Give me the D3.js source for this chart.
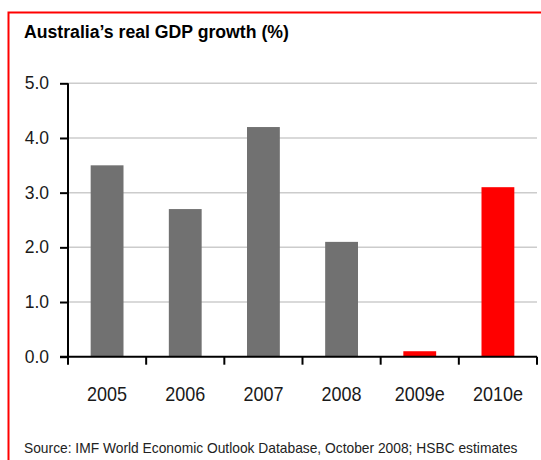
<!DOCTYPE html>
<html>
<head>
<meta charset="utf-8">
<script src="https://cdn.jsdelivr.net/npm/d3@7"></script>
<style>
  html, body { margin: 0; padding: 0; background: #fff; }
  svg { display: block; }
  text { font-family: "Liberation Sans", Arial, sans-serif; fill: #1a1a1a; }
</style>
</head>
<body>
<svg id="chart" width="541" height="460"></svg>
<script>
// Real GDP growth, Australia (%), with estimates for 2009 and 2010
const years = ["2005", "2006", "2007", "2008", "2009e", "2010e"];
const growth = [3.5, 2.7, 4.2, 2.1, 0.1, 3.1];
const isEstimate = [false, false, false, false, true, true];
const yTicks = [0, 1, 2, 3, 4, 5];

const svg = d3.select("#chart");
const W = 541, H = 460;

// narrow-style text: horizontally condensed around its anchor point
function narrowText(sel, x, y, k) {
  return sel.attr("x", 0).attr("y", 0)
    .attr("transform", `translate(${x},${y}) scale(${k},1)`);
}

// frame
svg.append("path")
  .attr("d", `M8.5,${H} L8.5,12.5 L${W},12.5`)
  .attr("fill", "none")
  .attr("stroke", "#ff0000")
  .attr("stroke-width", 2);

narrowText(svg.append("text"), 24, 38, 0.93)
  .attr("font-size", 19).attr("font-weight", "bold")
  .style("fill", "#000")
  .text("Australia\u2019s real GDP growth (%)");

const plotL = 68, plotR = 537, plotT = 83.3, plotB = 356.7;

const x = d3.scaleBand().domain(years).range([plotL, plotR]).paddingInner(0.58).paddingOuter(0.29);
const xTicks = d3.scaleBand().domain(years).range([plotL, plotR]);
const y = d3.scaleLinear().domain([0, 5]).range([plotB, plotT]);

// gridlines
svg.append("g").selectAll("line")
  .data(yTicks.filter(d => d > 0))
  .join("line")
  .attr("x1", plotL).attr("x2", plotR)
  .attr("y1", d => y(d)).attr("y2", d => y(d))
  .attr("stroke", "#cccccc").attr("stroke-width", 1.5);

// bars
svg.append("g").selectAll("rect")
  .data(years.map((yr, i) => ({ yr, v: growth[i], est: isEstimate[i] })))
  .join("rect")
  .attr("x", d => x(d.yr))
  .attr("width", x.bandwidth())
  .attr("y", d => y(d.v))
  .attr("height", d => y(0) - y(d.v))
  .attr("fill", d => d.est ? "#ff0000" : "#717171");

// y axis
const yAxis = d3.axisLeft(y).tickValues(yTicks).tickFormat(d3.format(".1f")).tickSize(8).tickPadding(11);
const gy = svg.append("g").attr("transform", `translate(${plotL},0)`).call(yAxis);
gy.select(".domain").attr("stroke", "#000").attr("stroke-width", 2).attr("d", `M0,${plotT}V${plotB}`);
gy.selectAll(".tick line").attr("stroke", "#000").attr("stroke-width", 2);
gy.selectAll(".tick text").attr("font-size", 17.5).attr("font-family", null).style("fill", "#1a1a1a");

// x axis: ticks sit at category boundaries
const gx = svg.append("g").attr("transform", `translate(0,${plotB})`);
gx.append("line").attr("x1", plotL - 8).attr("x2", plotR).attr("y1", 0).attr("y2", 0)
  .attr("stroke", "#000").attr("stroke-width", 2);
const bounds = years.map(d => xTicks(d)).concat([plotR]);
gx.selectAll("line.tk").data(bounds).join("line").attr("class", "tk")
  .attr("x1", d => d).attr("x2", d => d).attr("y1", 0).attr("y2", 8)
  .attr("stroke", "#000").attr("stroke-width", 2);
gx.selectAll("text").data(years).join("text")
  .each(function (d) {
    narrowText(d3.select(this), xTicks(d) + xTicks.bandwidth() / 2, 44, 0.9);
  })
  .attr("text-anchor", "middle")
  .attr("font-size", 20)
  .text(d => d);

narrowText(svg.append("text"), 24, 453, 0.92)
  .attr("font-size", 15)
  .style("fill", "#222")
  .text("Source: IMF World Economic Outlook Database, October 2008; HSBC estimates");
</script>
</body>
</html>
